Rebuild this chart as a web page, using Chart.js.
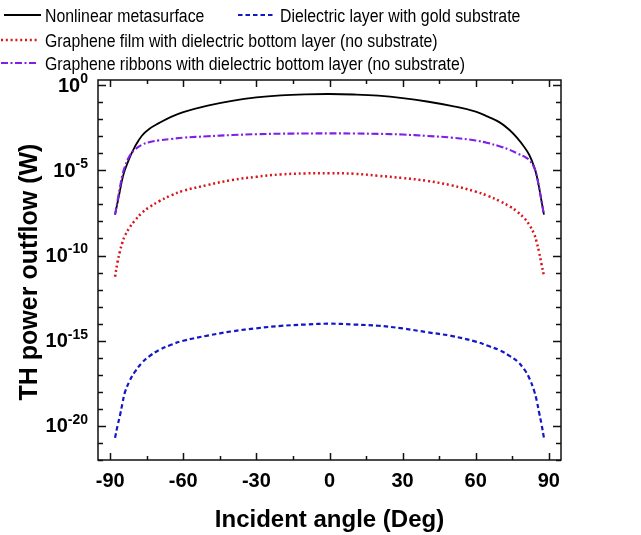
<!DOCTYPE html>
<html>
<head>
<meta charset="utf-8">
<script src="https://cdn.jsdelivr.net/npm/chart.js@4.4.1/dist/chart.umd.min.js"></script>
<style>
  body { margin: 0; background: #fff; }
  #wrap { width: 641px; height: 535px; }
</style>
</head>
<body>
<div id="wrap"><canvas id="thChart" width="641" height="535"></canvas></div>
<script>
// incident angle (deg)
const angles = [-88, -87, -86, -85, -84, -82, -80, -77, -74, -70, -65, -60, -50, -40, -30, -20, -10, 0,
  10, 20, 30, 40, 50, 60, 65, 70, 74, 77, 80, 82, 84, 85, 86, 87, 88];

// TH power outflow, stored as log10(W)
const metasurfaceExp = [-7.6, -6.9, -6.2, -5.5, -5.0, -4.25, -3.65, -2.97, -2.57, -2.23, -1.86, -1.58, -1.2, -0.92, -0.72, -0.6, -0.54, -0.52,
  -0.55, -0.62, -0.76, -0.96, -1.22, -1.55, -1.85, -2.2, -2.65, -3.1, -3.65, -4.1, -4.8, -5.3, -6.0, -6.8, -7.6];
const goldExp = [-20.7, -20.0, -19.4, -18.7, -18.05, -17.35, -16.85, -16.3, -15.92, -15.55, -15.24, -15.0, -14.7, -14.45, -14.27, -14.13, -14.05, -14.0,
  -14.05, -14.12, -14.28, -14.5, -14.72, -15.05, -15.3, -15.57, -15.9, -16.2, -16.7, -17.2, -17.95, -18.5, -19.2, -19.9, -20.7];
const filmExp = [-11.25, -10.4, -9.75, -9.25, -8.85, -8.35, -7.97, -7.5, -7.17, -6.82, -6.47, -6.2, -5.86, -5.57, -5.38, -5.24, -5.18, -5.17,
  -5.2, -5.32, -5.45, -5.62, -5.88, -6.25, -6.5, -6.82, -7.12, -7.42, -7.82, -8.2, -8.75, -9.2, -9.8, -10.5, -11.2];
const ribbonsExp = [-7.6, -6.8, -6.0, -5.3, -4.8, -4.15, -3.8, -3.5, -3.35, -3.24, -3.16, -3.08, -3.0, -2.93, -2.88, -2.85, -2.84, -2.83,
  -2.84, -2.86, -2.9, -2.98, -3.08, -3.25, -3.4, -3.6, -3.8, -4.0, -4.2, -4.4, -4.85, -5.3, -6.0, -6.8, -7.6];

const xTicks = [-90, -75, -60, -45, -30, -15, 0, 15, 30, 45, 60, 75, 90];
const yDecades = [];
for (let k = -22; k <= 0; k++) yDecades.push(k);

const FONT = '"Liberation Sans", Arial, sans-serif';

function toPoints(exps) {
  return angles.map((a, i) => ({ x: a, y: Math.pow(10, exps[i]) }));
}

const series = [
  { label: 'Nonlinear metasurface', data: metasurfaceExp, color: '#000000', width: 1.8, dash: [], legend: [4, 15, 45] },
  { label: 'Dielectric layer with gold substrate', data: goldExp, color: '#1515c8', width: 2.2, dash: [4.5, 3], legend: [238, 15, 280] },
  { label: 'Graphene film with dielectric bottom layer (no substrate)', data: filmExp, color: '#d9141b', width: 2.5, dash: [2, 2.8], legend: [1, 40, 45] },
  { label: 'Graphene ribbons with dielectric bottom layer (no substrate)', data: ribbonsExp, color: '#7f1fe8', width: 2.1, dash: [7, 2.5, 2, 2.5], legend: [1, 63, 45] }
];

// frame, inward ticks, tick labels, axis titles and the legend
const framePlugin = {
  id: 'frame',
  afterDraw(chart) {
    const ctx = chart.ctx;
    const area = chart.chartArea;
    const xs = chart.scales.x;
    const ys = chart.scales.y;
    ctx.save();
    ctx.strokeStyle = '#111';
    ctx.lineWidth = 1.5;
    ctx.strokeRect(area.left, area.top, area.right - area.left, area.bottom - area.top);

    ctx.beginPath();
    xTicks.forEach(v => {
      const px = Math.round(xs.getPixelForValue(v)) + 0.5;
      const len = v % 30 === 0 ? 7 : 4;
      ctx.moveTo(px, area.bottom); ctx.lineTo(px, area.bottom - len);
      ctx.moveTo(px, area.top); ctx.lineTo(px, area.top + len);
    });
    yDecades.forEach(k => {
      const py = Math.round(ys.getPixelForValue(Math.pow(10, k))) + 0.5;
      const len = k % 5 === 0 ? 8 : 5;
      ctx.moveTo(area.left, py); ctx.lineTo(area.left + len, py);
      ctx.moveTo(area.right, py); ctx.lineTo(area.right - len, py);
    });
    ctx.stroke();

    ctx.fillStyle = '#000';
    ctx.font = 'bold 20px ' + FONT;
    ctx.textAlign = 'center';
    ctx.textBaseline = 'alphabetic';
    xTicks.filter(v => v % 30 === 0).forEach(v => {
      ctx.fillText(String(v), xs.getPixelForValue(v), 487);
    });

    // 10^k labels with superscript exponent
    yDecades.filter(k => k % 5 === 0).forEach(k => {
      const py = ys.getPixelForValue(Math.pow(10, k));
      const exp = String(k);
      ctx.font = 'bold 14px ' + FONT;
      const we = ctx.measureText(exp).width;
      ctx.font = 'bold 20px ' + FONT;
      const wb = ctx.measureText('10').width;
      const right = 88;
      ctx.textAlign = 'left';
      ctx.textBaseline = 'middle';
      ctx.fillText('10', right - we - wb, py + 1);
      ctx.font = 'bold 14px ' + FONT;
      ctx.fillText(exp, right - we, py - 6);
    });

    ctx.textBaseline = 'alphabetic';
    ctx.textAlign = 'center';
    ctx.font = 'bold 24px ' + FONT;
    ctx.fillText('Incident angle (Deg)', (area.left + area.right) / 2, 527);

    ctx.save();
    ctx.translate(37, 272);
    ctx.rotate(-Math.PI / 2);
    ctx.font = 'bold 25px ' + FONT;
    ctx.fillText('TH power outflow (W)', 0, 0);
    ctx.restore();

    // legend
    series.forEach(s => {
      const [lx, ly, tx] = s.legend;
      ctx.beginPath();
      ctx.strokeStyle = s.color;
      ctx.lineWidth = s.width;
      ctx.setLineDash(s.dash);
      ctx.moveTo(lx, ly);
      ctx.lineTo(lx + 37, ly);
      ctx.stroke();
      ctx.setLineDash([]);
      ctx.save();
      ctx.translate(tx, ly + 6.5);
      ctx.scale(0.88, 1);
      ctx.font = '18px ' + FONT;
      ctx.textAlign = 'left';
      ctx.fillStyle = '#000';
      ctx.fillText(s.label, 0, 0);
      ctx.restore();
    });
    ctx.restore();
  }
};

// ribbons curve drawn last so it sits over the metasurface curve at the ends
new Chart(document.getElementById('thChart'), {
  type: 'line',
  data: {
    datasets: series.map((s, i) => ({
      label: s.label,
      data: toPoints(s.data),
      borderColor: s.color,
      borderWidth: s.width,
      borderDash: s.dash,
      pointRadius: 0,
      fill: false,
      tension: 0.4,
      order: 3 - i
    }))
  },
  options: {
    responsive: false,
    animation: false,
    layout: { padding: { left: 98, top: 80, right: 80, bottom: 75 } },
    plugins: { legend: { display: false }, tooltip: { enabled: false } },
    scales: {
      x: { type: 'linear', min: -95, max: 95, display: false },
      y: { type: 'logarithmic', min: 1e-22, max: 2, display: false }
    }
  },
  plugins: [framePlugin]
});
</script>
</body>
</html>
